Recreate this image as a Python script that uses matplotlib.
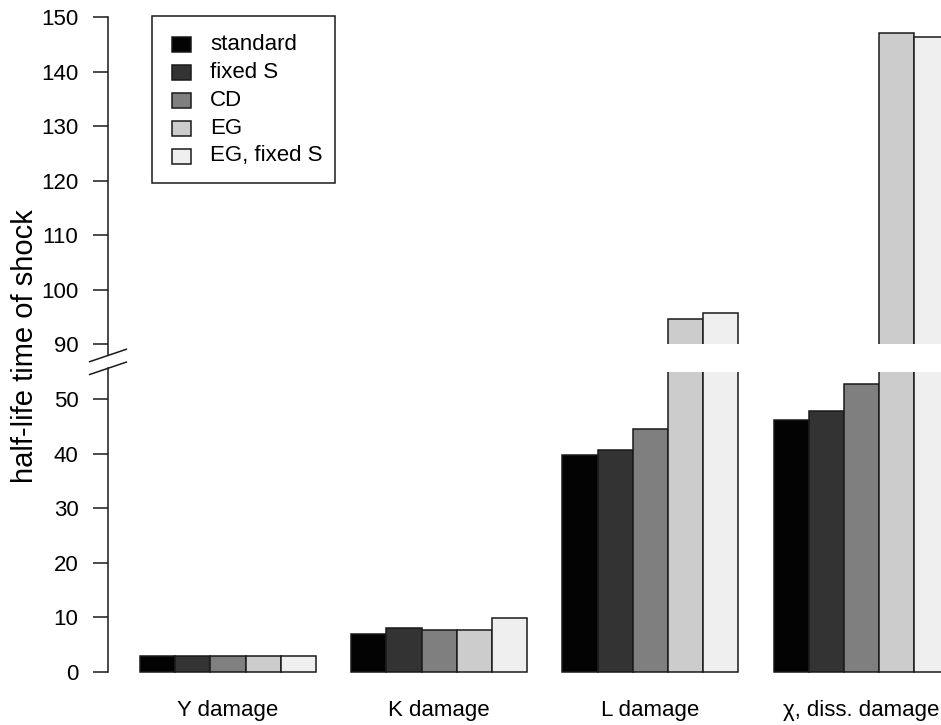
import matplotlib
matplotlib.use("Agg")
import matplotlib.pyplot as plt
from matplotlib.patches import Rectangle
from matplotlib.lines import Line2D

plt.rcParams['font.family'] = ['Liberation Sans', 'DejaVu Sans']

# ---- data -------------------------------------------------------------
categories = ["Y damage", "K damage", "L damage", "\u03c7, diss. damage"]
series = ["standard", "fixed S", "CD", "EG", "EG, fixed S"]
values = {
    "standard":    [3.0, 7.0, 39.8, 46.1],
    "fixed S":     [3.0, 8.0, 40.7, 47.9],
    "CD":          [3.0, 7.7, 44.5, 52.7],
    "EG":          [3.0, 7.7, 94.6, 147.1],
    "EG, fixed S": [3.0, 9.9, 95.8, 146.3],
}
colors = ["#030303", "#333333", "#7f7f7f", "#cccccc", "#efefef"]
lower_ticks = [0, 10, 20, 30, 40, 50]
upper_ticks = [90, 100, 110, 120, 130, 140, 150]

# broken axis: values above the break are shifted down by `shift`
gap_lo, gap_hi = 55, 60
shift = 30


def to_axis(v):
    return v if v <= gap_lo else v - shift


# ---- figure -----------------------------------------------------------
W, H = 941, 725
fig = plt.figure(figsize=(W / 100, H / 100), dpi=100)
ax_left_px, ax_bot_px, ax_top_px = 108, 672, 17
ax = fig.add_axes([ax_left_px / W, (H - ax_bot_px) / H,
                   (W - ax_left_px) / W, (ax_bot_px - ax_top_px) / H])

bar_w = 1.0
px_per_unit = 35.2
first_left = 1.0
x_lo = first_left - (140 - ax_left_px) / px_per_unit
x_hi = first_left + (W - 140) / px_per_unit
ax.set_xlim(x_lo, x_hi)
ax.set_ylim(0, 120)

n = len(series)
group_centers = []
for g, cat in enumerate(categories):
    g_left = first_left + g * (n + 1)
    group_centers.append(g_left + n * bar_w / 2)
    for j, s in enumerate(series):
        v = values[s][g]
        ax.add_patch(Rectangle((g_left + j * bar_w, 0), bar_w, to_axis(v),
                               facecolor=colors[j], edgecolor="#1a1a1a",
                               linewidth=1.1, clip_on=False, zorder=2))

# white band across the bars at the axis break
ax.add_patch(Rectangle((x_lo + 0.5, gap_lo), x_hi - x_lo, gap_hi - gap_lo,
                       facecolor="white", edgecolor="none", zorder=3,
                       clip_on=False))

for sp in ax.spines.values():
    sp.set_visible(False)

# y axis with break
yt = [to_axis(v) for v in lower_ticks] + [to_axis(v) for v in upper_ticks]
ylabels = [str(v) for v in lower_ticks] + [str(v) for v in upper_ticks]
ax.set_yticks(yt)
ax.set_yticklabels(ylabels)
ax.tick_params(axis='y', length=10.8, width=1.1, pad=10.5, labelsize=16,
               color="#1a1a1a")
ax.tick_params(axis='x', length=0, pad=20, labelsize=16)
ax.set_xticks(group_centers)
ax.set_xticklabels(categories)

ax.add_line(Line2D([x_lo, x_lo], [0, 55.64], color="#1a1a1a", lw=1.1,
                   clip_on=False, zorder=4))
ax.add_line(Line2D([x_lo, x_lo], [58.08, 120], color="#1a1a1a", lw=1.1,
                   clip_on=False, zorder=4))
dx = 18.35 / px_per_unit
dy = 6.2 / 5.458
for yc in (57.99, 55.64):
    ax.add_line(Line2D([x_lo - dx, x_lo + dx], [yc - dy, yc + dy],
                       color="#1a1a1a", lw=1.1, clip_on=False, zorder=4))

fig.text(25 / W, 1 - 346 / H, "half-life time of shock", rotation=90,
         ha="center", va="center", fontsize=21)

# legend box
def fx(px):
    return px / W


def fy(py):
    return 1 - py / H


fig.patches.append(Rectangle((fx(151.7), fy(183.3)), fx(335) - fx(151.7),
                             fy(16) - fy(183.3), transform=fig.transFigure,
                             facecolor="white", edgecolor="#1a1a1a",
                             linewidth=1.1, zorder=5))
row_y = [44.7, 72.5, 100.5, 128.3, 156.0]
for j, s in enumerate(series):
    fig.patches.append(Rectangle((fx(172), fy(row_y[j] + 7.5)),
                                 fx(191) - fx(172), fy(row_y[j] - 7.5) - fy(row_y[j] + 7.5),
                                 transform=fig.transFigure, facecolor=colors[j],
                                 edgecolor="#1a1a1a", linewidth=1.1, zorder=6))
    fig.text(fx(210), fy(row_y[j]), s, ha="left", va="center", fontsize=16,
             zorder=6)

fig.savefig("out.png", dpi=100)
